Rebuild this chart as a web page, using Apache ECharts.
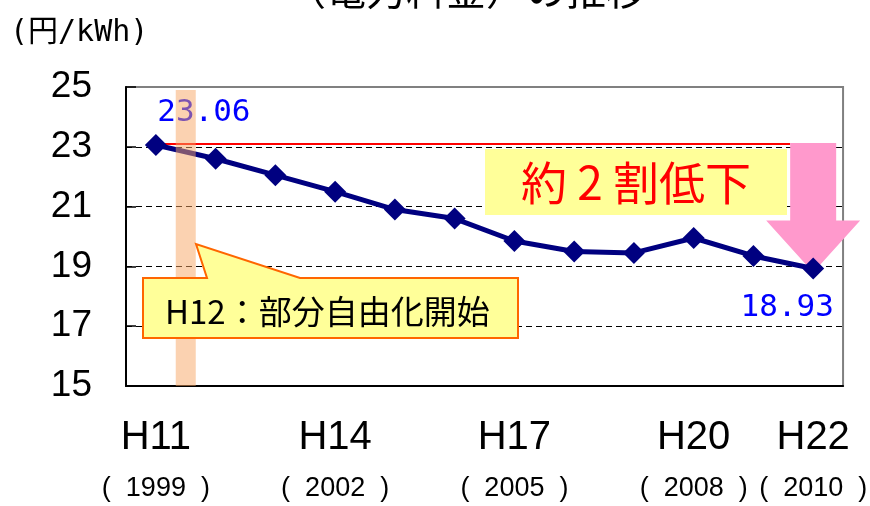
<!DOCTYPE html>
<html>
<head>
<meta charset="utf-8">
<script src="https://cdn.jsdelivr.net/npm/echarts@6/dist/echarts.min.js"></script>
<style>
  html, body { margin: 0; padding: 0; background: #fff; }
  #chart { width: 870px; height: 506px; }
</style>
</head>
<body>
<div id="chart"></div>
<script>
// データ
const categories = ['H11', 'H12', 'H13', 'H14', 'H15', 'H16', 'H17', 'H18', 'H19', 'H20', 'H21', 'H22']
const years = [1999, 2000, 2001, 2002, 2003, 2004, 2005, 2006, 2007, 2008, 2009, 2010]
const prices = [23.06, 22.6, 22.05, 21.5, 20.9, 20.6, 19.85, 19.5, 19.45, 19.95, 19.35, 18.93]
const shownLabels = [0, 3, 6, 9, 11]
const yMin = 15
const yMax = 25
const yStep = 2

const chart = echarts.init(document.getElementById('chart'))

const sans = "'Liberation Sans', Arial, sans-serif"
const cjk = "'Noto Sans CJK JP', sans-serif"
const mono = "'DejaVu Sans Mono', monospace"

// 先頭と末尾だけ値ラベルを出す
const seriesData = prices.map((v, i) => {
  if (i === 0) {
    return { value: v, label: { show: true, offset: [48, -32] } }
  }
  if (i === prices.length - 1) {
    return { value: v, label: { show: true, offset: [-26, 39] } }
  }
  return v
})

chart.setOption({
  animation: false,
  grid: {
    left: 126,
    right: 22,
    top: 87,
    bottom: 120,
    show: true,
    borderColor: '#808080',
    borderWidth: 2,
  },
  xAxis: {
    type: 'category',
    data: categories,
    boundaryGap: true,
    axisLine: { lineStyle: { color: '#000', width: 2 } },
    axisTick: { inside: true, length: 12, interval: 0, lineStyle: { color: '#000', width: 1.5 } },
    axisLabel: {
      interval: (idx) => shownLabels.includes(idx),
      margin: 20,
      formatter: (val, idx) => `{h|${val}}\n{y|(  ${years[idx]}  )}`,
      rich: {
        h: { fontSize: 40, lineHeight: 64, fontFamily: sans, color: '#000' },
        y: { fontSize: 27, lineHeight: 38, fontFamily: sans, color: '#000' },
      },
    },
    splitLine: { show: false },
  },
  yAxis: {
    type: 'value',
    min: yMin,
    max: yMax,
    interval: yStep,
    axisLine: { show: true, lineStyle: { color: '#000', width: 2 } },
    axisTick: { show: true, inside: true, length: 10, lineStyle: { color: '#000', width: 1.5 } },
    axisLabel: { fontSize: 37, fontFamily: sans, color: '#000', margin: 34 },
    splitLine: {
      show: true,
      showMinLine: false,
      showMaxLine: false,
      lineStyle: { color: '#000', width: 1, type: [6, 4] },
    },
  },
  series: [
    {
      type: 'line',
      data: seriesData,
      symbol: 'diamond',
      symbolSize: 22,
      lineStyle: { color: '#000080', width: 5 },
      itemStyle: { color: '#000080' },
      label: {
        show: false,
        position: 'inside',
        fontFamily: mono,
        fontSize: 31,
        color: '#0000FF',
      },
      z: 5,
    },
  ],
})

// 注記類（convertToPixelで位置を合わせる）
const px = (i, v) => chart.convertToPixel({ gridIndex: 0 }, [i, v])
const first = px(0, prices[0])
const last = px(prices.length - 1, prices[prices.length - 1])
const bandX = (px(0, yMin)[0] + px(1, yMin)[0]) / 2
const topY = px(0, yMax)[1]
const bottomY = px(0, yMin)[1]

const shaftHalf = 23
const headHalf = 47
const arrowTop = first[1] - 2
const tipY = last[1] + 4
const headY = tipY - 52

chart.setOption({
  graphic: [
    {
      type: 'text',
      style: {
        x: 466,
        y: -10,
        text: '（電力料金）の推移',
        fontSize: 40,
        fontFamily: cjk,
        fill: '#000',
        align: 'center',
        verticalAlign: 'middle',
      },
    },
    {
      type: 'text',
      style: {
        x: 10,
        y: 33,
        text: '(円/kWh)',
        fontSize: 30,
        fontFamily: "'DejaVu Sans Mono', 'Noto Sans CJK JP', monospace",
        fill: '#000',
        verticalAlign: 'middle',
      },
    },
    // 23.06 水準の赤線
    {
      type: 'line',
      shape: { x1: first[0], y1: first[1] - 1, x2: last[0] - shaftHalf, y2: first[1] - 1 },
      style: { stroke: '#FF0000', lineWidth: 2 },
      z: 1,
    },
    // ピンクの矢印
    {
      type: 'polygon',
      shape: {
        points: [
          [last[0] - shaftHalf, arrowTop],
          [last[0] + shaftHalf, arrowTop],
          [last[0] + shaftHalf, headY],
          [last[0] + headHalf, headY],
          [last[0], tipY],
          [last[0] - headHalf, headY],
          [last[0] - shaftHalf, headY],
        ],
      },
      style: { fill: '#FF99CC' },
      z: 1,
    },
    // 約２割低下
    {
      type: 'rect',
      shape: { x: 485, y: 149, width: 302, height: 66 },
      style: { fill: '#FFFF99' },
      z: 2,
    },
    {
      type: 'text',
      style: {
        x: 636,
        y: 183,
        text: '約 2 割低下',
        fontSize: 46,
        fontFamily: cjk,
        fill: '#FF0000',
        align: 'center',
        verticalAlign: 'middle',
      },
      z: 3,
    },
    // 部分自由化の帯
    {
      type: 'rect',
      shape: { x: bandX - 10, y: topY + 3, width: 20, height: bottomY - topY - 3 },
      style: { fill: 'rgba(247,165,100,0.5)' },
      z: 100,
    },
    // 吹き出し
    {
      type: 'polygon',
      shape: {
        points: [
          [143, 278], [207, 278], [196, 244], [300, 278],
          [518, 278], [518, 338], [143, 338],
        ],
      },
      style: { fill: '#FFFF99', stroke: '#FF6600', lineWidth: 2 },
      z: 101,
    },
    {
      type: 'text',
      style: {
        x: 165,
        y: 311,
        text: 'H12：部分自由化開始',
        fontSize: 33,
        fontFamily: cjk,
        fill: '#000',
        verticalAlign: 'middle',
      },
      z: 102,
    },
  ],
})
</script>
</body>
</html>
